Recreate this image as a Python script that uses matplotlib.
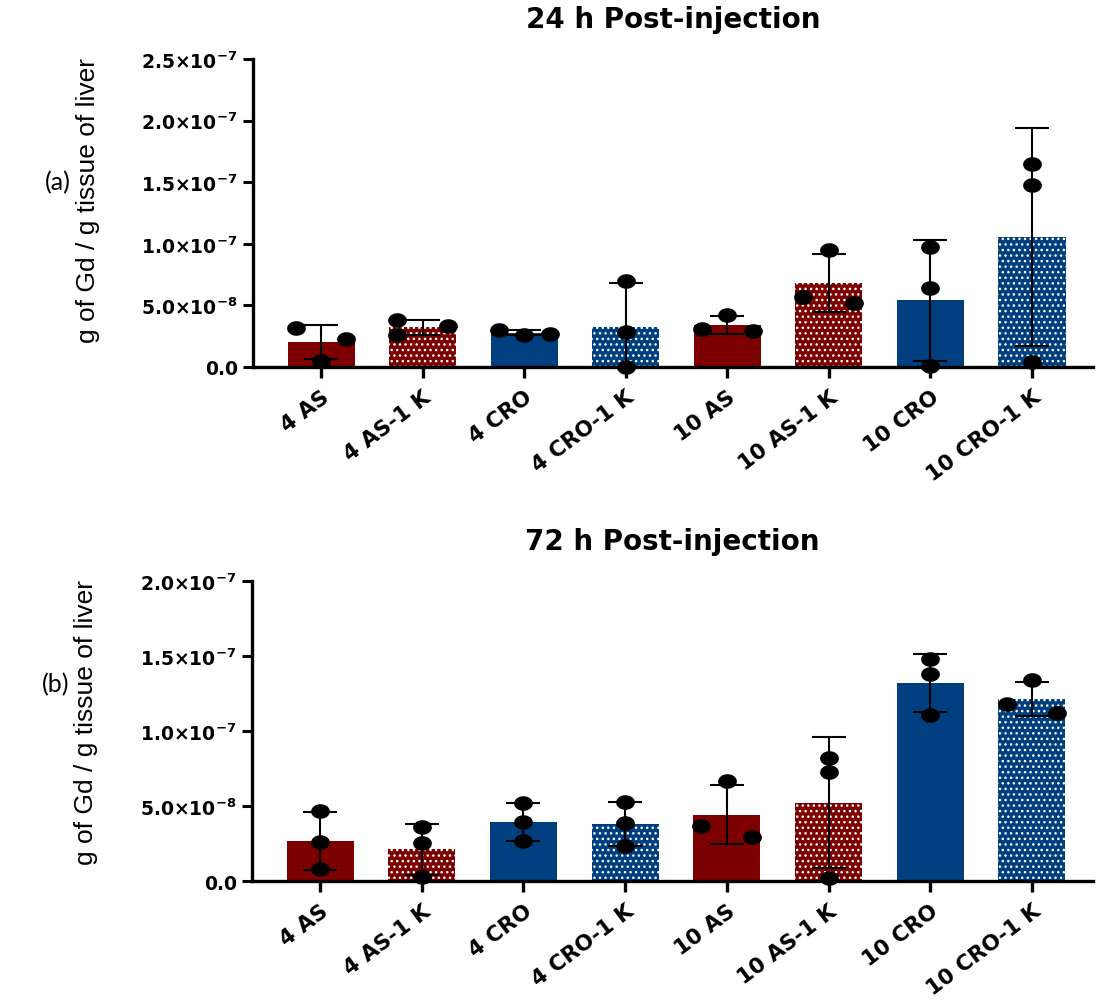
import numpy as np
import matplotlib
matplotlib.use("Agg")
import matplotlib.pyplot as plt
from matplotlib.ticker import FuncFormatter, MultipleLocator

# groups and their per-animal values (g Gd / g liver)
groups = ["4 AS", "4 AS-1 K", "4 CRO", "4 CRO-1 K", "10 AS", "10 AS-1 K", "10 CRO", "10 CRO-1 K"]

pts_24h = [
    [3.2e-8, 2.3e-8, 0.5e-8],
    [3.8e-8, 3.3e-8, 2.6e-8],
    [3.0e-8, 2.7e-8, 2.6e-8],
    [7.0e-8, 2.8e-8, 0.0e-8],
    [4.2e-8, 3.1e-8, 2.9e-8],
    [9.5e-8, 5.7e-8, 5.2e-8],
    [9.7e-8, 6.4e-8, 0.1e-8],
    [16.5e-8, 14.8e-8, 0.4e-8],
]

pts_72h = [
    [4.67e-8, 2.6e-8, 0.8e-8],
    [3.6e-8, 2.53e-8, 0.27e-8],
    [5.2e-8, 3.93e-8, 2.67e-8],
    [5.27e-8, 3.87e-8, 2.33e-8],
    [6.67e-8, 3.67e-8, 2.93e-8],
    [8.2e-8, 7.27e-8, 0.2e-8],
    [14.8e-8, 13.8e-8, 11.07e-8],
    [13.4e-8, 11.8e-8, 11.2e-8],
]

red = "#7d0000"
blue = "#003f7f"
colors = [red, red, blue, blue, red, red, blue, blue]
dotted = [False, True, False, True, False, True, False, True]

plt.rcParams["font.family"] = ["DejaVu Sans"]
plt.rcParams["mathtext.fontset"] = "custom"
plt.rcParams["mathtext.rm"] = "DejaVu Sans:bold"
plt.rcParams["mathtext.default"] = "rm"
plt.rcParams["hatch.linewidth"] = 1.0

t = np.linspace(0, 2 * np.pi, 40)
ellipse = np.column_stack([np.cos(t), 0.76 * np.sin(t)])


def sci(v, pos):
    if v == 0:
        return "0.0"
    e = int(np.floor(np.log10(abs(v)) + 1e-9))
    m = v / 10 ** e
    return f"{m:.1f}×10$^{{{e}}}$"


def offsets(vals, thresh, step=0.25):
    # spread points sideways when they would overlap
    placed = []
    out = [0.0] * len(vals)
    order = np.argsort(vals)[::-1]
    for i in order:
        v = vals[i]
        crowded = any(abs(v - vals[j]) < thresh for j in range(len(vals)) if j != i)
        cands = [-step, step, 0.0] if crowded else [0.0]
        for c in cands:
            if all(not (o == c and abs(v - pv) < thresh) for pv, o in placed):
                out[i] = c
                break
        placed.append((v, out[i]))
    return out


def panel(ax, pts, title, ymax, thresh):
    x = np.arange(len(groups))
    means = [np.mean(p) for p in pts]
    sds = [np.std(p, ddof=1) for p in pts]
    for i in range(len(groups)):
        ax.bar(x[i], means[i], width=0.66, color=colors[i],
               edgecolor="white" if dotted[i] else colors[i],
               linewidth=0, hatch="..." if dotted[i] else None, zorder=1)
    ax.errorbar(x, means, yerr=sds, fmt="none", ecolor="black", elinewidth=1.5,
                capsize=12, capthick=1.5, zorder=2)
    for i, p in enumerate(pts):
        off = offsets(p, thresh)
        ax.plot(x[i] + np.array(off), p, linestyle="none", marker=ellipse,
                markersize=12.5, color="black", zorder=3, clip_on=False)
    ax.set_xlim(-0.67, 7.6)
    ax.set_ylim(0, ymax)
    ax.yaxis.set_major_locator(MultipleLocator(5e-8))
    ax.yaxis.set_major_formatter(FuncFormatter(sci))
    ax.set_xticks(x)
    ax.set_xticklabels(groups, rotation=37, ha="right", rotation_mode="anchor",
                       fontsize=15.5, fontweight="bold")
    for s in ["top", "right"]:
        ax.spines[s].set_visible(False)
    for s in ["left", "bottom"]:
        ax.spines[s].set_linewidth(2.4)
    ax.tick_params(axis="y", length=7, width=2.2, labelsize=13.5, pad=4)
    ax.tick_params(axis="x", length=8, width=2.4, pad=6)
    for lb in ax.get_yticklabels():
        lb.set_fontweight("bold")
    ax.set_title(title, fontsize=20, fontweight="bold", pad=23)
    ax.set_ylabel("g of Gd / g tissue of liver", fontsize=19, family="Liberation Sans")


fig = plt.figure(figsize=(10.97, 10.04), dpi=100)
ax1 = fig.add_axes([0.2306, 0.6335, 0.7657, 0.3068])
ax2 = fig.add_axes([0.2297, 0.1215, 0.7666, 0.2988])

panel(ax1, pts_24h, "24 h Post-injection", 2.5e-7, 1.0e-8)
panel(ax2, pts_72h, "72 h Post-injection", 2.0e-7, 0.85e-8)
ax1.yaxis.set_label_coords(-0.182, 0.545)
ax2.yaxis.set_label_coords(-0.183, 0.533)

fig.text(0.041, 1 - 183 / 1004, "(a)", fontsize=18, family="Lato", va="center")
fig.text(0.038, 1 - 685 / 1004, "(b)", fontsize=18, family="Lato", va="center")

fig.savefig("out.png", dpi=100)
